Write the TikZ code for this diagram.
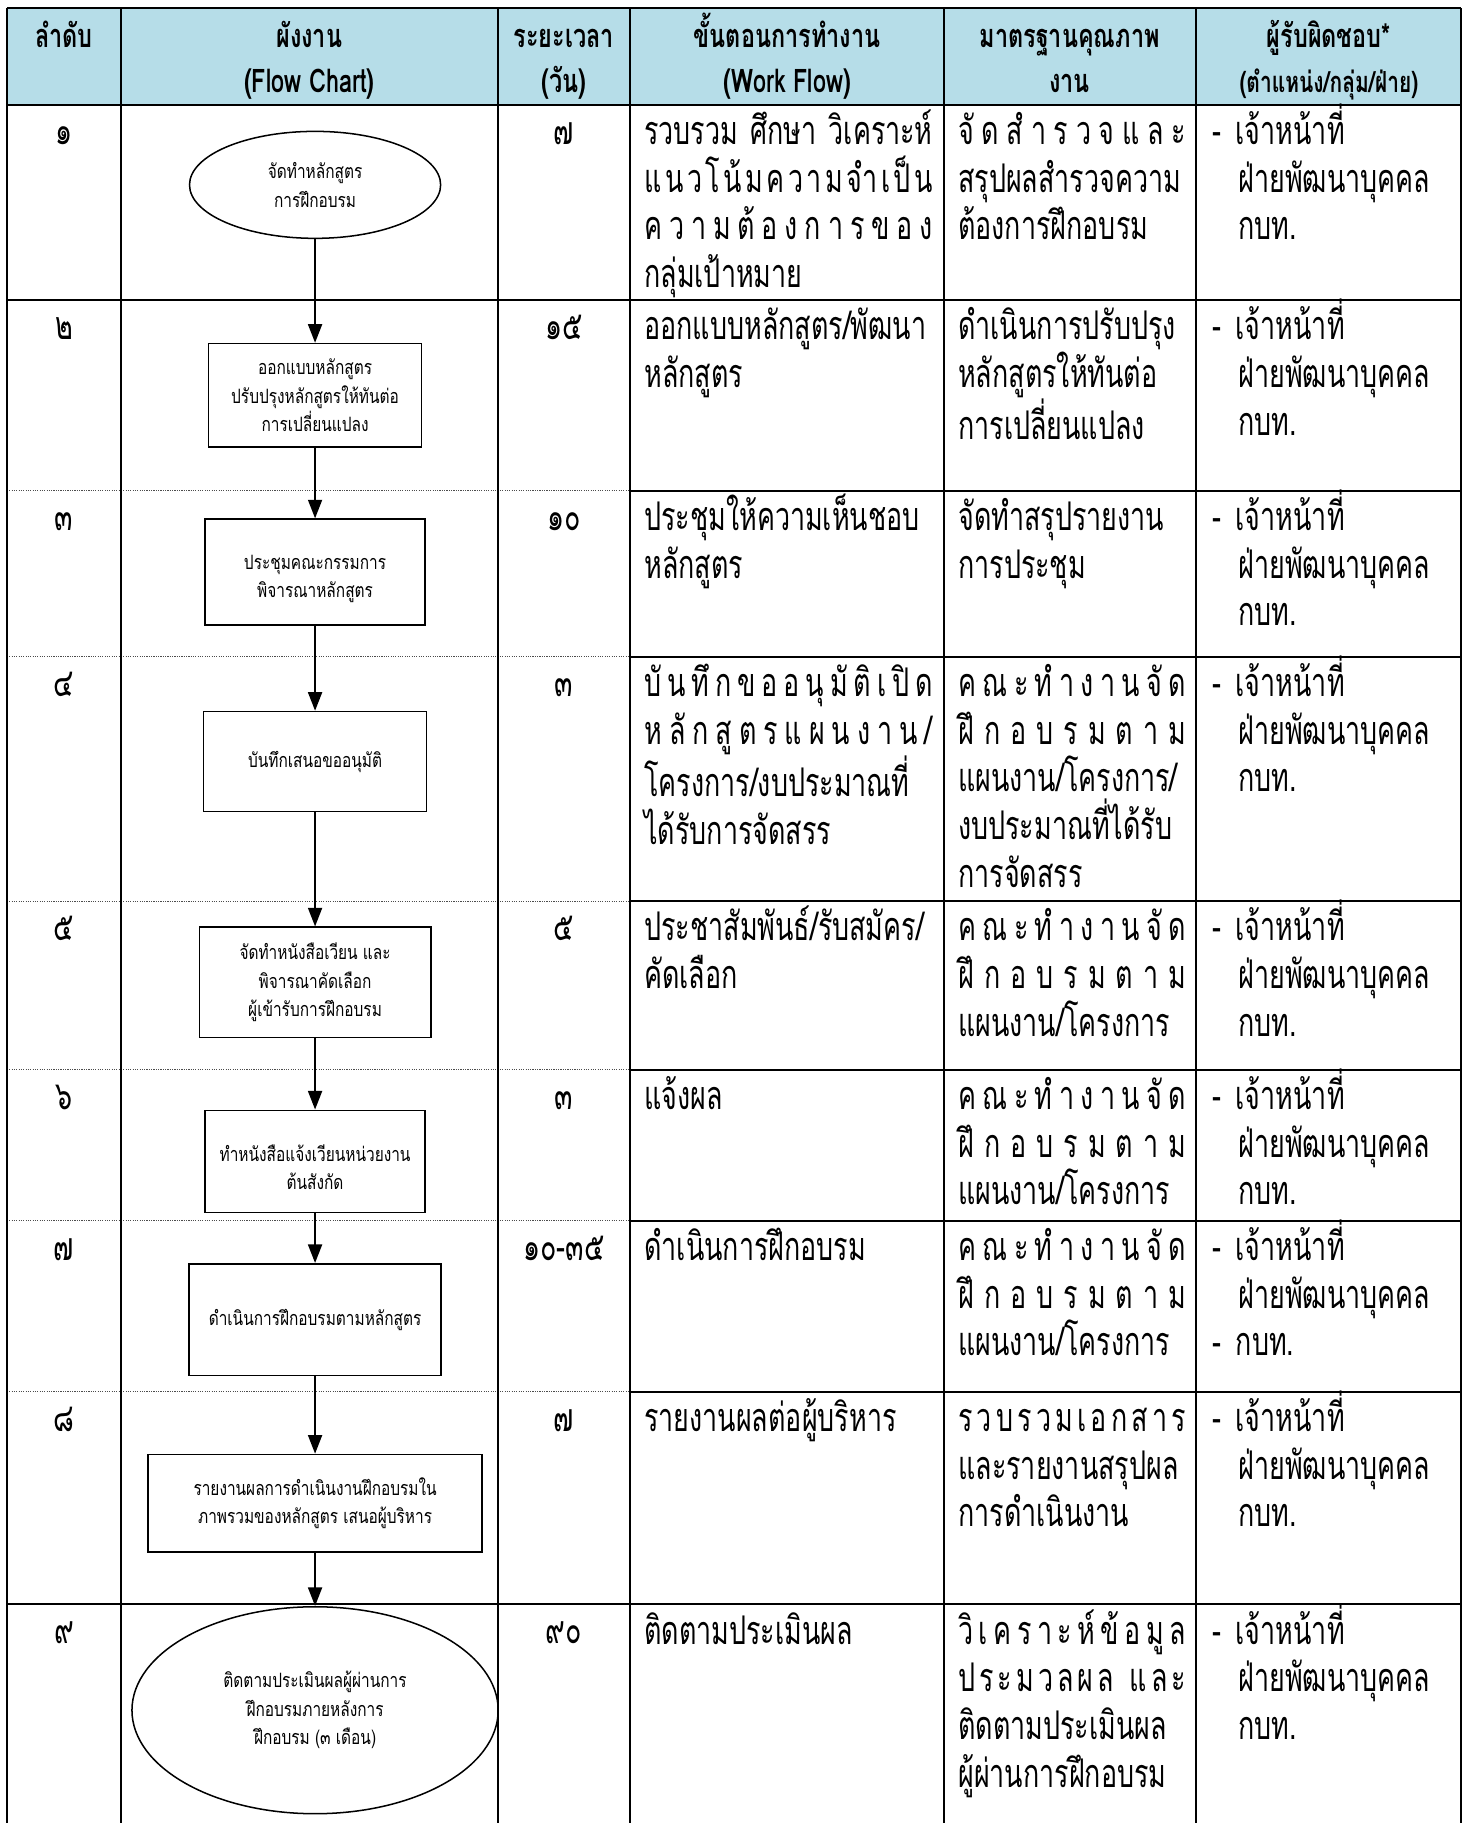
\documentclass[tikz,border=0pt]{standalone}
\usepackage{fontspec}
\usepackage{xcolor}
\usepackage{tikz}
\usetikzlibrary{shapes,arrows.meta,positioning,calc}

\newfontfamily\thaibody[Script=Thai,FakeStretch=0.68]{Loma}
\newfontfamily\thaiflow[Script=Thai,FakeStretch=0.78]{Loma}
\newfontfamily\thaihead[Script=Thai,FakeStretch=0.72]{Loma}
\newcommand{\bodyfont}{\thaibody\fontsize{34}{41}\selectfont}
\newcommand{\boxfont}{\thaiflow\fontsize{17}{24.5}\selectfont}
\newcommand{\headfont}{\thaihead\bfseries\fontsize{28}{38}\selectfont}
\definecolor{headblue}{HTML}{B6DDE8}

\def\wfour{248pt}
\def\wfive{196pt}
\newcommand{\tstrut}{\rule{0pt}{36pt}}
\newcommand{\jline}[2]{\hbox to #1{#2}}
\newcommand{\spread}[2]{\hbox to #1{\foreach \c [count=\i] in {#2}{\ifnum\i>1\hfil\fi\c}}}
\newcommand{\kana}{\tstrut\spread{\wfive}{ค,ณ,ะ,ทํ,า,ง,า,น,จั,ด}\\\spread{\wfive}{ฝึ,ก,อ,บ,ร,ม,ต,า,ม}\\แผนงาน/โครงการ}
\newcommand{\staff}{\tstrut-\hspace{12pt}เจ้าหน้าที่\\\hspace*{22pt}ฝ่ายพัฒนาบุคคล}

\begin{document}
\begin{tikzpicture}[x=1pt,y=-1pt,
	grid/.style = {line width=1.8pt},
	dots/.style = {line width=0.8pt,black!70,dash pattern=on 1pt off 1pt},
	proc/.style = {draw,line width=1.3pt,rectangle,align=center,font=\boxfont,inner sep=0pt},
	term/.style = {draw,line width=1.3pt,ellipse,align=center,font=\boxfont,inner sep=0pt},
	flow/.style = {line width=1.7pt,-{Triangle[length=16pt,width=12pt]}},
	head/.style = {anchor=north,align=center,inner sep=0pt,font=\headfont},
	cell/.style = {anchor=north west,align=left,inner sep=0pt,font=\bodyfont},
	num/.style  = {anchor=base,inner sep=0pt,font=\bodyfont}
	]

	\useasboundingbox (0,0) rectangle (1260,1568);
	\fill[headblue] (6,7) rectangle (1257,90);

	\draw[dots] (6,422) -- (542,422) (6,565) -- (542,565) (6,775) -- (542,775)
		(6,920) -- (542,920) (6,1050) -- (542,1050) (6,1197) -- (542,1197);
	\draw[grid] (542,422) -- (1257,422) (542,565) -- (1257,565) (542,775) -- (1257,775)
		(542,920) -- (1257,920) (542,1050) -- (1257,1050) (542,1197) -- (1257,1197);
	\draw[grid] (6,7) -- (1257,7) (6,90) -- (1257,90) (6,258) -- (1257,258) (6,1380) -- (1257,1380);
	\foreach \cx in {6,104,428,542,812,1029,1257}
		\draw[grid] (\cx,7) -- (\cx,1568);

	\node[head] (h1) at (55,11) {\rule{0pt}{30pt}ลำดับ};
	\node[head] (h2) at (266,11) {\rule{0pt}{30pt}ผังงาน\\(Flow Chart)};
	\node[head] (h3) at (485,11) {\rule{0pt}{30pt}ระยะเวลา\\(วัน)};
	\node[head] (h4) at (677,11) {\rule{0pt}{30pt}ขั้นตอนการทำงาน\\(Work Flow)};
	\node[head] (h5) at (920,11) {\rule{0pt}{30pt}มาตรฐานคุณภาพ\\งาน};
	\node[head] (h6) at (1143,11) {\rule{0pt}{30pt}ผู้รับผิดชอบ*\\{\fontsize{25}{38}\selectfont(ตำแหน่ง/กลุ่ม/ฝ่าย)}};

	\node[term,minimum width=216pt,minimum height=92pt] (s1) at (271,159) {จัดทำหลักสูตร\\การฝึกอบรม};
	\node[proc,minimum width=183pt,minimum height=89pt] (s2) at (271,340) {ออกแบบหลักสูตร\\ปรับปรุงหลักสูตรให้ทันต่อ\\การเปลี่ยนแปลง};
	\node[proc,minimum width=189pt,minimum height=91pt] (s3) at (271,492) {\\ประชุมคณะกรรมการ\\พิจารณาหลักสูตร};
	\node[proc,minimum width=192pt,minimum height=86pt] (s4) at (271,655) {บันทึกเสนอขออนุมัติ};
	\node[proc,minimum width=199pt,minimum height=95pt] (s5) at (271,845) {จัดทำหนังสือเวียน และ\\พิจารณาคัดเลือก\\ผู้เข้ารับการฝึกอบรม};
	\node[proc,minimum width=189pt,minimum height=88pt] (s6) at (271,999) {\\ทำหนังสือแจ้งเวียนหน่วยงาน\\ต้นสังกัด};
	\node[proc,minimum width=217pt,minimum height=96pt] (s7) at (271,1135) {ดำเนินการฝึกอบรมตามหลักสูตร};
	\node[proc,minimum width=287pt,minimum height=84pt] (s8) at (271,1293) {รายงานผลการดำเนินงานฝึกอบรมใน\\ภาพรวมของหลักสูตร เสนอผู้บริหาร};
	\node[term,minimum width=315pt,minimum height=178pt] (s9) at (271,1471) {ติดตามประเมินผลผู้ผ่านการ\\ฝึกอบรมภายหลังการ\\ฝึกอบรม (๓ เดือน)};

	\draw[flow] (s1) -- (s2);
	\draw[flow] (s2) -- (s3);
	\draw[flow] (s3) -- (s4);
	\draw[flow] (s4) -- (s5);
	\draw[flow] (s5) -- (s6);
	\draw[flow] (s6) -- (s7);
	\draw[flow] (s7) -- (s8);
	\draw[flow] (s8) -- (s9);

	\node[num] (o1) at (55,124) {๑};
	\node[num] (o2) at (55,292) {๒};
	\node[num] (o3) at (55,456) {๓};
	\node[num] (o4) at (55,599) {๔};
	\node[num] (o5) at (55,809) {๕};
	\node[num] (o6) at (55,954) {๖};
	\node[num] (o7) at (55,1084) {๗};
	\node[num] (o8) at (55,1231) {๘};
	\node[num] (o9) at (55,1414) {๙};

	\node[num] (d1) at (485,124) {๗};
	\node[num] (d2) at (485,292) {๑๕};
	\node[num] (d3) at (485,456) {๑๐};
	\node[num] (d4) at (485,599) {๓};
	\node[num] (d5) at (485,809) {๕};
	\node[num] (d6) at (485,954) {๓};
	\node[num] (d7) at (485,1084) {๑๐-๓๕};
	\node[num] (d8) at (485,1231) {๗};
	\node[num] (d9) at (485,1414) {๙๐};

	\node[cell] (w1) at (554,88) {\tstrut\jline{\wfour}{รวบรวม ศึกษา วิเคราะห์}\\\spread{\wfour}{แ,น,ว,โ,น้,ม,ค,ว,า,ม,จำ,เ,ป็,น}\\\spread{\wfour}{ค,ว,า,ม,ต้,อ,ง,ก,า,ร,ข,อ,ง}\\กลุ่มเป้าหมาย};
	\node[cell] (w2) at (554,256) {\tstrut ออกแบบหลักสูตร/พัฒนา\\หลักสูตร};
	\node[cell] (w3) at (554,420) {\tstrut ประชุมให้ความเห็นชอบ\\หลักสูตร};
	\node[cell] (w4) at (554,563) {\tstrut\spread{\wfour}{บั,น,ทึ,ก,ข,อ,อ,นุ,มั,ติ,เ,ปิ,ด}\\\spread{\wfour}{ห,ลั,ก,สู,ต,ร,แ,ผ,น,ง,า,น,/}\\โครงการ/งบประมาณที่\\ได้รับการจัดสรร};
	\node[cell] (w5) at (554,773) {\tstrut ประชาสัมพันธ์/รับสมัคร/\\คัดเลือก};
	\node[cell] (w6) at (554,918) {\tstrut แจ้งผล};
	\node[cell] (w7) at (554,1048) {\tstrut ดำเนินการฝึกอบรม};
	\node[cell] (w8) at (554,1195) {\tstrut รายงานผลต่อผู้บริหาร};
	\node[cell] (w9) at (554,1378) {\tstrut ติดตามประเมินผล};

	\node[cell] (q1) at (824,88) {\tstrut\spread{\wfive}{จั,ด,สํ,า,ร,ว,จ,แ,ล,ะ}\\สรุปผลสำรวจความ\\ต้องการฝึกอบรม};
	\node[cell] (q2) at (824,256) {\tstrut ดำเนินการปรับปรุง\\หลักสูตรให้ทันต่อ\\การเปลี่ยนแปลง};
	\node[cell] (q3) at (824,420) {\tstrut จัดทำสรุปรายงาน\\การประชุม};
	\node[cell] (q4) at (824,563) {\tstrut\spread{\wfive}{ค,ณ,ะ,ทํ,า,ง,า,น,จั,ด}\\\spread{\wfive}{ฝึ,ก,อ,บ,ร,ม,ต,า,ม}\\แผนงาน/โครงการ/\\งบประมาณที่ได้รับ\\การจัดสรร};
	\node[cell] (q5) at (824,773) {\kana};
	\node[cell] (q6) at (824,918) {\kana};
	\node[cell] (q7) at (824,1048) {\kana};
	\node[cell] (q8) at (824,1195) {\tstrut\spread{\wfive}{ร,ว,บ,ร,ว,ม,เ,อ,ก,ส,า,ร}\\และรายงานสรุปผล\\การดำเนินงาน};
	\node[cell] (q9) at (824,1378) {\tstrut\spread{\wfive}{วิ,เ,ค,ร,า,ะ,ห์,ข้,อ,มู,ล}\\\spread{\wfive}{ป,ร,ะ,ม,ว,ล,ผ,ล\hspace{10pt},แ,ล,ะ}\\ติดตามประเมินผล\\ผู้ผ่านการฝึกอบรม};

	\node[cell] (r1) at (1043,88) {\staff\\\hspace*{22pt}กบท.};
	\node[cell] (r2) at (1043,256) {\staff\\\hspace*{22pt}กบท.};
	\node[cell] (r3) at (1043,420) {\staff\\\hspace*{22pt}กบท.};
	\node[cell] (r4) at (1043,563) {\staff\\\hspace*{22pt}กบท.};
	\node[cell] (r5) at (1043,773) {\staff\\\hspace*{22pt}กบท.};
	\node[cell] (r6) at (1043,918) {\staff\\\hspace*{22pt}กบท.};
	\node[cell] (r7) at (1043,1048) {\staff\\-\hspace{12pt}กบท.};
	\node[cell] (r8) at (1043,1195) {\staff\\\hspace*{22pt}กบท.};
	\node[cell] (r9) at (1043,1378) {\staff\\\hspace*{22pt}กบท.};

\end{tikzpicture}
\end{document}
